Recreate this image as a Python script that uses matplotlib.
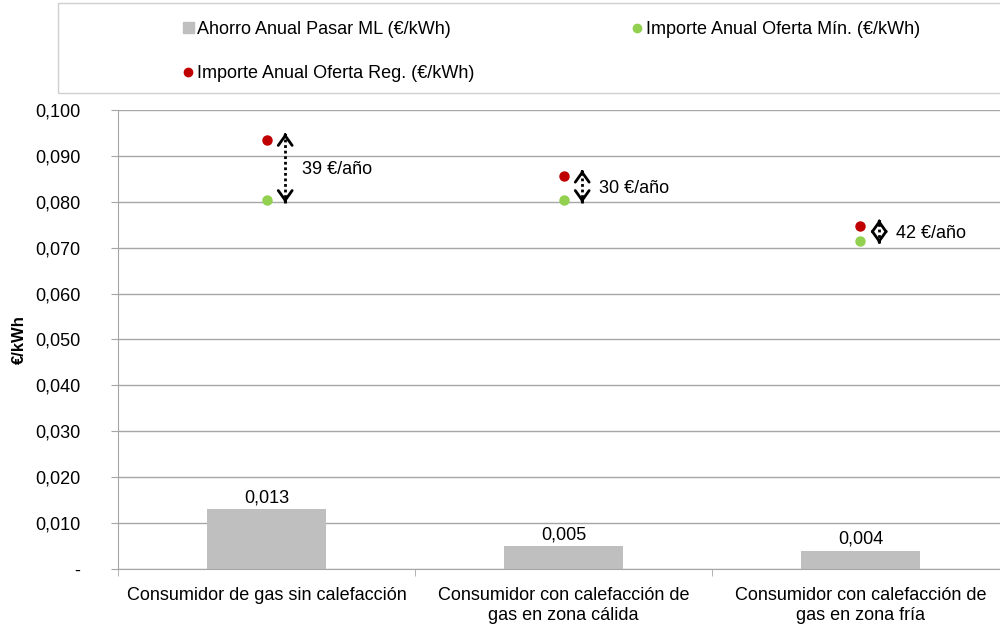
import numpy as np
import matplotlib.pyplot as plt
from matplotlib.lines import Line2D
from matplotlib.patches import Patch, Rectangle

plt.rcParams['font.family'] = ['Liberation Sans', 'DejaVu Sans']

# data
categories = ['Consumidor de gas sin calefacción',
              'Consumidor con calefacción de\ngas en zona cálida',
              'Consumidor con calefacción de\ngas en zona fría']
ahorro = [0.013, 0.005, 0.004]          # Ahorro Anual Pasar ML
oferta_min = [0.0804, 0.0804, 0.0715]   # Importe Anual Oferta Min.
oferta_reg = [0.0935, 0.0855, 0.0747]   # Importe Anual Oferta Reg.
ahorro_anual = [39, 30, 42]             # €/año
yticks = [0, 0.01, 0.02, 0.03, 0.04, 0.05, 0.06, 0.07, 0.08, 0.09, 0.10]
ytick_labels = ['-', '0,010', '0,020', '0,030', '0,040', '0,050',
                '0,060', '0,070', '0,080', '0,090', '0,100']

grey = '#BFBFBF'
red = '#C00000'
green = '#92D050'
linec = '#A6A6A6'
fs = 13

fig = plt.figure(figsize=(10, 6.28), dpi=100)
ax = fig.add_axes([0.118, 0.094, 0.891, 0.731])

x = np.arange(len(categories))
bars = ax.bar(x, ahorro, width=0.4, color=grey, zorder=2)
for xi, v in zip(x, ahorro):
    ax.annotate(('%.3f' % v).replace('.', ','), (xi, v), xytext=(0, 2),
                textcoords='offset points', ha='center', va='bottom', fontsize=fs)

ax.plot(x, oferta_reg, 'o', color=red, ms=6.5, zorder=4)
ax.plot(x, oferta_min, 'o', color=green, ms=6.5, zorder=4)

# dotted double arrows with the annual saving
dx = 0.063
hs = '->,head_length=0.7,head_width=0.5'
for xi, lo, hi, s in zip(x, oferta_min, oferta_reg, ahorro_anual):
    xa = xi + dx
    top, bot = hi + 0.0014, lo - 0.0006
    ax.plot([xa, xa], [bot, top], color='black', lw=2, ls=(0, (1, 1)), zorder=3)
    eps = 0.0004
    ax.annotate('', xy=(xa, top), xytext=(xa, top - eps),
                arrowprops=dict(arrowstyle=hs, color='black', lw=2, shrinkA=0, shrinkB=0))
    ax.annotate('', xy=(xa, bot), xytext=(xa, bot + eps),
                arrowprops=dict(arrowstyle=hs, color='black', lw=2, shrinkA=0, shrinkB=0))
    ax.text(xa + 0.055, (lo + hi) / 2, '%d €/año' % s, ha='left', va='center', fontsize=fs)

ax.set_xlim(-0.5, 2.5)
ax.set_ylim(0, 0.1)
ax.set_yticks(yticks)
ax.set_yticklabels(ytick_labels, fontsize=fs)
ax.set_xticks(x)
ax.set_xticklabels(categories, fontsize=fs)
ax.set_xticks([-0.5, 0.5, 1.5, 2.5], minor=True)
ax.tick_params(axis='x', which='major', length=0, pad=13)
ax.tick_params(axis='x', which='minor', length=5, color=linec)
ax.tick_params(axis='y', length=5, color=linec, pad=22)
ax.yaxis.grid(True, color=linec, lw=1)
ax.set_axisbelow(True)
for s in ['top', 'right']:
    ax.spines[s].set_visible(False)
for s in ['left', 'bottom']:
    ax.spines[s].set_color(linec)

fig.text(0.019, 1 - 340 / 628, '€/kWh', rotation=90, ha='center', va='center',
         fontsize=12, fontweight='bold')

# legend box
fig.patches.append(Rectangle((0.058, 1 - 93 / 628), 1.0, 90 / 628, transform=fig.transFigure,
                             fill=False, edgecolor='#D0D0D0', lw=1))
handles = [Patch(color=grey, label='Ahorro Anual Pasar ML (€/kWh)'),
           Line2D([], [], marker='o', ls='', color=red, ms=6, label='Importe Anual Oferta Reg. (€/kWh)'),
           Line2D([], [], marker='o', ls='', color=green, ms=6, label='Importe Anual Oferta Mín. (€/kWh)')]
fig.legend(handles=handles, ncol=2, loc='upper left', bbox_to_anchor=(0.183, 1 - 21 / 628),
           frameon=False, fontsize=fs, borderpad=0, borderaxespad=0, handlelength=0.6,
           handleheight=0.6, handletextpad=0.2, labelspacing=1.5, columnspacing=8.7)

fig.savefig('out.png', dpi=100)
